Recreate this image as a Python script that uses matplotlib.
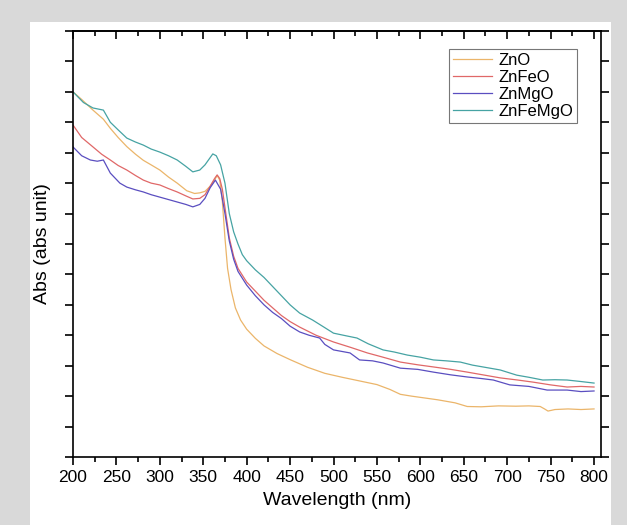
import matplotlib
matplotlib.use('Agg')
import matplotlib.pyplot as plt
from matplotlib.patches import Rectangle
from matplotlib.ticker import MultipleLocator, NullFormatter

# --- Data (arbitrary absorbance units) ---
zno_nm = [200, 210, 223, 235, 243, 252, 262, 272, 281, 290, 300, 310, 320, 331,
          340, 346, 352, 358, 363, 366, 369, 372, 375, 378, 382, 387, 393, 400,
          410, 420, 435, 450, 470, 490, 510, 530, 550, 565, 577, 590, 600, 620,
          640, 654, 670, 690, 710, 725, 738, 743, 747, 755, 770, 785, 800]
zno_abs = [1.20, 1.175, 1.14, 1.11, 1.08, 1.05, 1.02, 0.995, 0.975, 0.96, 0.943,
           0.92, 0.90, 0.875, 0.866, 0.868, 0.873, 0.89, 0.91, 0.925, 0.91, 0.84,
           0.72, 0.62, 0.55, 0.49, 0.45, 0.42, 0.39, 0.365, 0.34, 0.32, 0.295,
           0.275, 0.262, 0.25, 0.238, 0.222, 0.206, 0.2, 0.196, 0.188, 0.178,
           0.166, 0.165, 0.168, 0.167, 0.168, 0.166, 0.158, 0.151, 0.156, 0.158,
           0.156, 0.158]

znfeo_nm = [200, 210, 223, 233, 243, 252, 262, 272, 281, 290, 300, 310, 320,
            330, 338, 346, 352, 358, 363, 366, 369, 372, 376, 380, 385, 390,
            400, 410, 420, 430, 440, 450, 461, 480, 500, 520, 539, 557, 577,
            597, 615, 635, 654, 672, 692, 712, 730, 750, 769, 785, 800]
znfeo_abs = [1.091, 1.05, 1.019, 0.995, 0.976, 0.958, 0.943, 0.925, 0.91,
             0.90, 0.894, 0.882, 0.871, 0.858, 0.848, 0.85, 0.862, 0.89, 0.915,
             0.927, 0.915, 0.88, 0.80, 0.72, 0.66, 0.62, 0.575, 0.545, 0.515,
             0.49, 0.465, 0.445, 0.427, 0.40, 0.378, 0.36, 0.342, 0.328, 0.312,
             0.303, 0.296, 0.288, 0.279, 0.27, 0.26, 0.253, 0.246, 0.237, 0.23,
             0.232, 0.23]

znmgo_nm = [200, 210, 220, 228, 235, 243, 254, 262, 272, 281, 290, 300, 310,
            320, 330, 338, 346, 352, 358, 364, 370, 375, 380, 385, 390, 400,
            410, 420, 430, 440, 450, 461, 472, 484, 490, 500, 519, 530, 545,
            557, 577, 597, 615, 635, 654, 670, 684, 703, 725, 746, 769, 785, 800]
znmgo_abs = [1.019, 0.99, 0.976, 0.972, 0.976, 0.933, 0.90, 0.887, 0.878,
             0.871, 0.862, 0.854, 0.846, 0.838, 0.83, 0.822, 0.83, 0.85, 0.885,
             0.91, 0.88, 0.80, 0.71, 0.65, 0.61, 0.565, 0.53, 0.50, 0.475,
             0.455, 0.43, 0.411, 0.40, 0.391, 0.37, 0.352, 0.342, 0.319, 0.316,
             0.309, 0.292, 0.288, 0.279, 0.27, 0.263, 0.258, 0.253, 0.237,
             0.232, 0.22, 0.22, 0.215, 0.217]

znfemgo_nm = [200, 212, 223, 235, 243, 252, 262, 272, 281, 290, 300, 310, 320,
              330, 338, 346, 352, 356, 361, 365, 370, 375, 380, 385, 390, 395,
              400, 410, 420, 430, 440, 450, 461, 476, 490, 500, 515, 527, 540,
              557, 570, 585, 600, 615, 630, 646, 660, 672, 692, 711, 725, 741,
              755, 769, 785, 800]
znfemgo_abs = [1.20, 1.165, 1.147, 1.14, 1.10, 1.075, 1.048, 1.035, 1.025,
               1.012, 1.002, 0.99, 0.976, 0.955, 0.937, 0.943, 0.96, 0.976,
               0.996, 0.99, 0.96, 0.90, 0.80, 0.74, 0.70, 0.665, 0.645, 0.615,
               0.59, 0.56, 0.53, 0.50, 0.473, 0.45, 0.425, 0.407, 0.398, 0.391,
               0.372, 0.352, 0.345, 0.335, 0.328, 0.319, 0.316, 0.312, 0.302,
               0.296, 0.286, 0.269, 0.262, 0.253, 0.254, 0.253, 0.248, 0.243]

plt.rcParams['font.family'] = ['Liberation Sans', 'DejaVu Sans']

fig = plt.figure(figsize=(6.27, 5.25), dpi=100)
fig.patch.set_facecolor('#d9d9d9')
# white panel inside the grey frame, kept behind the axes
fig.add_artist(Rectangle((0.048, 0.0), 0.927, 0.958, transform=fig.transFigure,
                         facecolor='white', edgecolor='none', zorder=-5))

ax = fig.add_axes([0.1164, 0.1295, 0.8421, 0.8115])
ax.set_facecolor('white')

ax.plot(zno_nm, zno_abs, color='#ebb56a', lw=0.9, label='ZnO')
ax.plot(znfeo_nm, znfeo_abs, color='#e06868', lw=0.9, label='ZnFeO')
ax.plot(znmgo_nm, znmgo_abs, color='#5a4ec0', lw=0.9, label='ZnMgO')
ax.plot(znfemgo_nm, znfemgo_abs, color='#46a3a3', lw=0.9, label='ZnFeMgO')

ax.set_xlim(200, 808)
ax.set_ylim(0, 1.4)
ax.xaxis.set_major_locator(MultipleLocator(50))
ax.xaxis.set_minor_locator(MultipleLocator(25))
ax.yaxis.set_major_locator(MultipleLocator(0.1))
ax.yaxis.set_major_formatter(NullFormatter())

for s in ax.spines.values():
    s.set_linewidth(1.2)

ax.tick_params(axis='x', which='major', direction='out', length=6, width=1.2,
               labelsize=12.5, top=False)
ax.tick_params(axis='x', which='minor', direction='out', length=3.5, width=1.2, top=False)
ax.tick_params(axis='y', which='major', direction='out', length=6, width=1.2,
               left=True, right=True)

# top axis: ticks pointing inward, no labels
top = ax.secondary_xaxis('top')
top.xaxis.set_major_locator(MultipleLocator(50))
top.xaxis.set_minor_locator(MultipleLocator(25))
top.xaxis.set_major_formatter(NullFormatter())
top.tick_params(which='major', direction='in', length=6, width=1.2)
top.tick_params(which='minor', direction='in', length=3.5, width=1.2)
top.spines['top'].set_linewidth(1.2)

ax.set_xlabel('Wavelength (nm)', fontsize=14, labelpad=5)
ax.set_ylabel('Abs (abs unit)', fontsize=14, labelpad=6)

leg = ax.legend(loc='upper right', bbox_to_anchor=(0.955, 0.958), fontsize=12,
                frameon=True, fancybox=False, edgecolor='#555555',
                handlelength=2.3, handletextpad=0.4, borderpad=0.25,
                labelspacing=0.12, borderaxespad=0)
leg.get_frame().set_linewidth(0.8)

fig.savefig('out.png', dpi=100, facecolor=fig.get_facecolor())
